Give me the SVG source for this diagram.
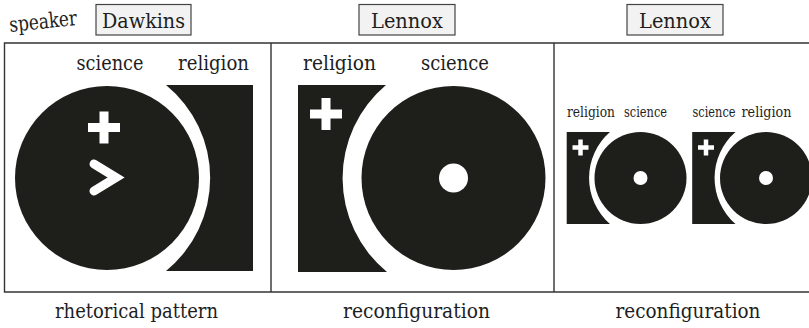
<svg xmlns="http://www.w3.org/2000/svg" xmlns:xlink="http://www.w3.org/1999/xlink" width="809" height="328" viewBox="0 0 809 328">
<style>
  text{font-family:'DejaVu Serif',serif;fill:#1e1e1e;}
  .lbl{font-size:21px;text-anchor:middle;}
  .sm{font-size:14px;text-anchor:middle;}
  .box{fill:#f2f2f2;stroke:#444;stroke-width:1.2;}
  .frame{stroke:#333;stroke-width:1.4;fill:none;}
  .ink{fill:#1e1e1b;}
  .w{fill:#fff;}
</style>
<defs>
  <path id="plus" d="M-4.5,-16h9v11.5h11.5v9h-11.5v11.5h-9v-11.5h-11.5v-9h11.5Z"/>
</defs>
<rect width="809" height="328" fill="#fff"/>

<g id="frame">
  <path class="frame" d="M809,43H4.5V292H809M271,43V292M554,43V292"/>
</g>

<g id="speaker">
  <text x="10" y="32" font-size="21" textLength="68" lengthAdjust="spacingAndGlyphs" transform="rotate(-6 10 32)">speaker</text>
</g>
<g id="box-dawkins">
  <rect class="box" x="96" y="4.5" width="95" height="30.5"/>
  <text class="lbl" x="143.5" y="27.5" textLength="83" lengthAdjust="spacingAndGlyphs">Dawkins</text>
</g>
<g id="box-lennox1">
  <rect class="box" x="359" y="4.5" width="96" height="30.5"/>
  <text class="lbl" x="407" y="27.5" textLength="72" lengthAdjust="spacingAndGlyphs">Lennox</text>
</g>
<g id="box-lennox2">
  <rect class="box" x="627" y="4.5" width="96" height="30.5"/>
  <text class="lbl" x="675" y="27.5" textLength="72" lengthAdjust="spacingAndGlyphs">Lennox</text>
</g>

<g id="panel1">
  <text class="lbl" x="110" y="70" textLength="67" lengthAdjust="spacingAndGlyphs">science</text>
  <text class="lbl" x="213.5" y="70" textLength="71" lengthAdjust="spacingAndGlyphs">religion</text>
  <path class="ink" d="M166,85H253V271H166A120,120 0 0 0 166,85Z"/>
  <circle class="ink" cx="107" cy="178" r="92"/>
  <use xlink:href="#plus" class="w" transform="translate(104,127.5)"/>
  <polyline points="94,164 116,177.5 94,191" fill="none" stroke="#fff" stroke-width="9" stroke-linecap="round" stroke-linejoin="miter"/>
</g>

<g id="panel2">
  <text class="lbl" x="339.5" y="70" textLength="73" lengthAdjust="spacingAndGlyphs">religion</text>
  <text class="lbl" x="455" y="70" textLength="68" lengthAdjust="spacingAndGlyphs">science</text>
  <path class="ink" d="M298,85H386A121.5,121.5 0 0 0 387,272H298Z"/>
  <use xlink:href="#plus" class="w" transform="translate(326,114)"/>
  <circle class="ink" cx="453.5" cy="178" r="92"/>
  <circle class="w" cx="453.5" cy="178" r="14.5"/>
</g>

<g id="panel3a">
  <text class="sm" x="591" y="117" textLength="48" lengthAdjust="spacingAndGlyphs">religion</text>
  <text class="sm" x="645.5" y="117" textLength="43" lengthAdjust="spacingAndGlyphs">science</text>
  <path class="ink" d="M566.7,132H610A61,61 0 0 0 610,224H566.7Z"/>
  <use xlink:href="#plus" class="w" transform="translate(580.5,147.5) scale(0.5)"/>
  <circle class="ink" cx="640.5" cy="178" r="46"/>
  <circle class="w" cx="640.5" cy="178" r="7"/>
</g>

<g id="panel3b">
  <text class="sm" x="714" y="117" textLength="43" lengthAdjust="spacingAndGlyphs">science</text>
  <text class="sm" x="766.5" y="117" textLength="50" lengthAdjust="spacingAndGlyphs">religion</text>
  <path class="ink" d="M692.2,132H735.5A61,61 0 0 0 735.5,224H692.2Z"/>
  <use xlink:href="#plus" class="w" transform="translate(706,147.5) scale(0.5)"/>
  <circle class="ink" cx="766" cy="178" r="46"/>
  <circle class="w" cx="766" cy="178" r="7"/>
</g>

<g id="captions">
  <text class="lbl" x="136.5" y="318" textLength="163" lengthAdjust="spacingAndGlyphs">rhetorical pattern</text>
  <text class="lbl" x="416.5" y="318" textLength="147" lengthAdjust="spacingAndGlyphs">reconfiguration</text>
  <text class="lbl" x="688" y="318" textLength="145" lengthAdjust="spacingAndGlyphs">reconfiguration</text>
</g>
</svg>
